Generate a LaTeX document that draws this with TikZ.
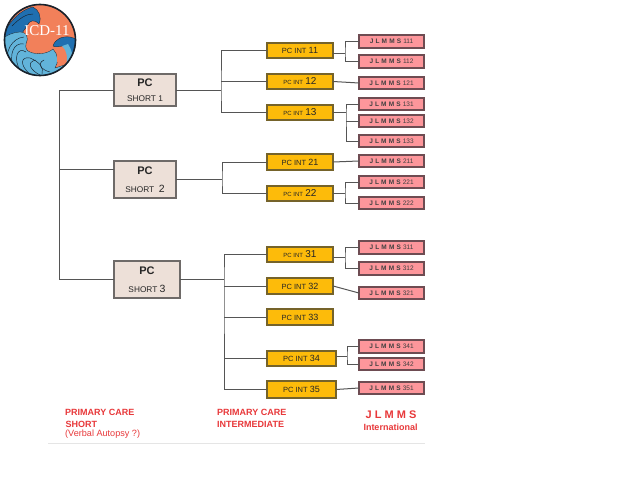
\documentclass[tikz,border=0pt]{standalone}
\usepackage{fontspec}
\setmainfont{Liberation Sans}
\newfontfamily\logofont{Liberation Serif}
\tikzset{
  x=1pt,y=-1pt,
  shortbox/.style={draw=shortedge,fill=shortfill,line width=1.8pt,text=black!85,align=center,inner sep=0pt,outer sep=0pt},
  intbox/.style={draw=intedge,fill=intfill,line width=1.8pt,text=black!85,font=\fontsize{8}{9}\selectfont,inner sep=0pt,outer sep=0pt},
  jbox/.style={draw=jedge,fill=jfill,line width=1.8pt,text=black!75,font=\fontsize{6.5}{7}\selectfont,inner sep=0pt,outer sep=0pt},
  wire/.style={draw=wirecol,line width=1pt},
  foot/.style={text=footred,font=\fontsize{9}{10}\selectfont\bfseries,inner sep=0pt,anchor=west},
}
\definecolor{shortedge}{HTML}{6E6A68}
\definecolor{shortfill}{HTML}{EDE0D8}
\definecolor{intedge}{HTML}{75632A}
\definecolor{intfill}{HTML}{FDBB0A}
\definecolor{jedge}{HTML}{6E4C52}
\definecolor{jfill}{HTML}{FD969B}
\definecolor{wirecol}{HTML}{555555}
\definecolor{footred}{HTML}{E8383A}
\definecolor{logoorange}{HTML}{F2805A}
\definecolor{logolight}{HTML}{62B4DA}
\definecolor{logodark}{HTML}{1F6FB0}
\definecolor{logoedge}{HTML}{18222C}
% style, x1, y1, x2, y2, name
\newcommand\bx[7][]{%
  \node[#2,#1,minimum width={(#5-#3-1.8)*1pt},minimum height={(#6-#4-1.8)*1pt}] (#7) at ({(#3+#5)/2},{(#4+#6)/2})}
\newcommand\nj[1]{{\bfseries J\,\,L\,\,M\,\,M\,\,S}\,\,#1}
\newcommand\smallpc[1]{{\fontsize{6}{7}\selectfont PC INT} {\fontsize{10}{11}\selectfont #1}}
\newcommand\midpc[1]{{\fontsize{7.5}{9}\selectfont PC INT} {\fontsize{9}{10}\selectfont #1}}
\begin{document}
\begin{tikzpicture}
\useasboundingbox (0,0) rectangle (638,479);
\fill[white] (0,0) rectangle (638,479);

% logo
\begin{scope}
\clip (40,40) circle (36);
\fill[logoorange] (0,0) rectangle (80,80);
\fill[logodark,draw=logoedge,line width=0.3pt] (2,42) -- (7,28) .. controls (14,16) and (24,9) .. (33,7) .. controls (39,10) and (42,17) .. (39,24) .. controls (35,19) and (29,20) .. (27,26) -- (20,36) -- cycle;
\fill[logolight,draw=logoedge,line width=0.3pt] (0,80) -- (0,40) .. controls (7,35) and (14,32) .. (20,32) .. controls (27,32) and (29,38) .. (26,44) .. controls (25,48) and (27,51) .. (30,52) .. controls (37,55) and (47,54) .. (53,49) .. controls (58,54) and (59,62) .. (55,68) -- (80,60) -- (80,80) -- cycle;
\fill[logodark,draw=logoedge,line width=0.3pt] (53,46) .. controls (55,39) and (62,36) .. (70,37) -- (80,40) -- (80,62) -- (65,70) .. controls (70,62) and (70,52) .. (63,46) .. controls (60,46) and (56,48) .. (53,46) -- cycle;
\fill[logolight] (68,44) .. controls (72,50) and (73,56) .. (72,60) -- (66,66) .. controls (68,58) and (67,50) .. (62,46) -- cycle;
\fill[logoorange] (57,54) .. controls (60,55) and (62,58) .. (60,62) -- (57,62) -- cycle;
\begin{scope}[draw=logoedge,line width=0.45pt]
\draw (8,66) .. controls (4,52) and (12,38) .. (24,37);
\draw (14,70) .. controls (8,54) and (14,42) .. (24,44);
\draw (21,72) .. controls (12,58) and (18,46) .. (26,52);
\draw (30,74) .. controls (20,66) and (20,56) .. (30,58);
\draw (40,75) .. controls (30,70) and (26,62) .. (36,60);
\draw (50,72) .. controls (42,70) and (36,64) .. (44,60);
\draw (30,58) .. controls (40,62) and (44,68) .. (42,74);
\draw (12,26) .. controls (20,18) and (26,14) .. (33,14);
\end{scope}
\end{scope}
\draw[logoedge,line width=1.6pt] (40,40) circle (35.5);
\node[text=white,inner sep=0pt,font=\logofont\fontsize{15}{16}\selectfont] (logotext) at (47,31) {ICD-11};

% short boxes
\bx{shortbox}{113}{73}{177}{107}{s1} {{\fontsize{11}{14}\selectfont\bfseries PC}\\[2.5pt]{\fontsize{8.3}{10}\selectfont SHORT 1}};
\bx{shortbox}{113}{160}{177}{199}{s2} {{\fontsize{11}{14}\selectfont\bfseries PC}\\[6pt]{\fontsize{8.3}{10}\selectfont SHORT\ \ {\fontsize{10.5}{10}\selectfont 2}}};
\bx{shortbox}{113}{260}{181}{299}{s3} {{\fontsize{11}{14}\selectfont\bfseries PC}\\[6pt]{\fontsize{8.3}{10}\selectfont SHORT {\fontsize{10.5}{10}\selectfont 3}}};

% intermediate boxes
\bx{intbox}{266}{42}{334}{59}{i11} {\midpc{11}};
\bx{intbox}{266}{73}{334}{90}{i12} {\smallpc{12}};
\bx{intbox}{266}{104}{334}{121}{i13} {\smallpc{13}};
\bx{intbox}{266}{153}{334}{171}{i21} {\midpc{21}};
\bx{intbox}{266}{185}{334}{202}{i22} {\smallpc{22}};
\bx{intbox}{266}{246}{334}{263}{i31} {\smallpc{31}};
\bx{intbox}{266}{277}{334}{295}{i32} {\midpc{32}};
\bx{intbox}{266}{308}{334}{326}{i33} {\midpc{33}};
\bx{intbox}{266}{350}{337}{367}{i34} {\midpc{34}};
\bx{intbox}{266}{380}{337}{399}{i35} {\midpc{35}};

% JLMMS boxes
\bx{jbox}{358}{34}{425}{49}{j111} {\nj{111}};
\bx{jbox}{358}{54}{425}{69}{j112} {\nj{112}};
\bx{jbox}{358}{76}{425}{90}{j121} {\nj{121}};
\bx{jbox}{358}{97}{425}{111}{j131} {\nj{131}};
\bx{jbox}{358}{114}{425}{128}{j132} {\nj{132}};
\bx{jbox}{358}{134}{425}{148}{j133} {\nj{133}};
\bx{jbox}{358}{154}{425}{168}{j211} {\nj{211}};
\bx{jbox}{358}{175}{425}{189}{j221} {\nj{221}};
\bx{jbox}{358}{196}{425}{210}{j222} {\nj{222}};
\bx{jbox}{358}{240}{425}{255}{j311} {\nj{311}};
\bx{jbox}{358}{261}{425}{276}{j312} {\nj{312}};
\bx{jbox}{358}{286}{425}{300}{j321} {\nj{321}};
\bx{jbox}{358}{339}{425}{354}{j341} {\nj{341}};
\bx{jbox}{358}{357}{425}{371}{j342} {\nj{342}};
\bx{jbox}{358}{381}{425}{395}{j351} {\nj{351}};

% bus coordinates
\coordinate (b1) at (221,90);
\coordinate (b2) at (222,179.5);
\coordinate (b3) at (224,279.5);
\coordinate (b11) at (345,53);
\coordinate (b13) at (346,112.5);
\coordinate (b22) at (345,193.5);
\coordinate (b31) at (345,257);
\coordinate (b34) at (347,356);
\coordinate (t1) at (59,90);
\coordinate (t2) at (59,169);

% level 1 trunk
\draw[wire] (s1.west) -- (t1) |- (s3.west);
\draw[wire] (t2) -- (t2 -| s2.west);

% short to intermediate
\draw[wire] (s1.east) -- (s1.east -| b1);
\draw[wire] (i11.west) -| (b1) |- (i13.west);
\draw[wire] (i12.west) -- (i12.west -| b1);
\draw[wire] (s2.east) -- (b2);
\draw[wire] (i21.west) -| (b2) |- (i22.west);
\draw[wire] (s3.east) -- (b3);
\draw[wire] (i31.west) -| (b3) |- (i35.west);
\draw[wire] (i32.west) -- (i32.west -| b3);
\draw[wire] (i33.west) -- (i33.west -| b3);
\draw[wire] (i34.west) -- (i34.west -| b3);

% intermediate to JLMMS
\draw[wire] (b11 -| i11.east) -- (b11);
\draw[wire] (j111.west) -| (b11) |- (j112.west);
\draw[wire] (i12.east) -- (j121.west);
\draw[wire] (b13 -| i13.east) -- (b13);
\draw[wire] (j131.west) -| (b13) |- (j133.west);
\draw[wire] (j132.west) -- (j132.west -| b13);
\draw[wire] (i21.east) -- (j211.west);
\draw[wire] (b22 -| i22.east) -- (b22);
\draw[wire] (j221.west) -| (b22) |- (j222.west);
\draw[wire] (b31 -| i31.east) -- (b31);
\draw[wire] (j311.west) -| (b31) |- (j312.west);
\draw[wire] (i32.east) -- (j321.west);
\draw[wire] (b34 -| i34.east) -- (b34);
\draw[wire] (j341.west) -| (b34) |- (j342.west);
\draw[wire] (i35.east) -- (j351.west);

% footer
\node[foot] (f1) at (65,412.5) {PRIMARY CARE};
\node[foot] (f2) at (65.5,424) {SHORT};
\node[foot,font=\fontsize{9.1}{10}\selectfont] (f3) at (65,434) {(Verbal Autopsy ?)};
\node[foot] (f4) at (217,412.5) {PRIMARY CARE};
\node[foot] (f5) at (217,424) {INTERMEDIATE};
\node[foot,anchor=center,font=\fontsize{11}{12}\selectfont\bfseries] (f6) at (391,415) {J L M M S};
\node[foot,anchor=center,font=\fontsize{9}{10}\selectfont\bfseries] (f7) at (390.5,427) {International};
\draw[black!10,line width=1pt] (48,443) -- (425,443);
\end{tikzpicture}
\end{document}
